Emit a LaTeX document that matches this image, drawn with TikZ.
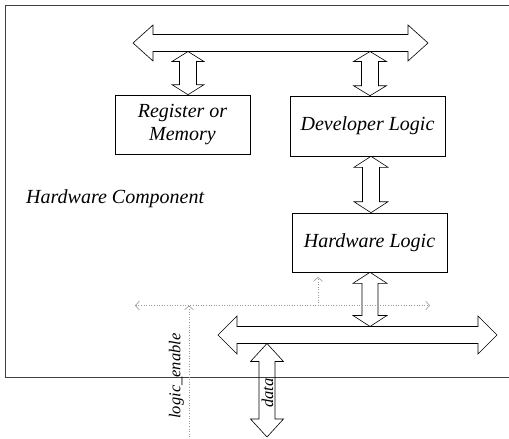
\documentclass[tikz,border=0pt]{standalone}
\usepackage{fontspec}
\setmainfont{Liberation Serif}
\usetikzlibrary{calc,arrows.meta}
\tikzset{
  frame/.style={line width=0.7pt, black!75},
  box/.style={draw, line width=0.6pt, inner sep=0pt, align=center,
    font=\fontsize{20}{23}\selectfont\itshape},
  fat/.style={draw, line width=0.6pt},
  sig/.style={gray!80, dotted, line width=0.6pt, -{Straight Barb[length=4pt,width=9pt]}},
  sigboth/.style={gray!80, dotted, line width=0.6pt, {Straight Barb[length=4pt,width=9pt]}-{Straight Barb[length=4pt,width=9pt]}},
  lbl/.style={font=\fontsize{20}{23}\selectfont\itshape, inner sep=0pt},
  rlbl/.style={font=\fontsize{16.5}{18}\selectfont\itshape, inner sep=0pt, rotate=90}
}
% vertical fat double arrow: #1 top tip, #2 bottom tip, #3 shaft half, #4 head half, #5 head length
\newcommand\fatV[5]{%
  \draw[fat] let \p1=(#1), \p2=(#2) in
    (\x1,\y1) -- ({\x1+#4pt},{\y1-#5pt}) -- ({\x1+#3pt},{\y1-#5pt}) --
    ({\x1+#3pt},{\y2+#5pt}) -- ({\x1+#4pt},{\y2+#5pt}) -- (\x1,\y2) --
    ({\x1-#4pt},{\y2+#5pt}) -- ({\x1-#3pt},{\y2+#5pt}) --
    ({\x1-#3pt},{\y1-#5pt}) -- ({\x1-#4pt},{\y1-#5pt}) -- cycle;}
% horizontal fat double arrow: #1 left tip, #2 right tip
\newcommand\fatH[5]{%
  \draw[fat] let \p1=(#1), \p2=(#2) in
    (\x1,\y1) -- ({\x1+#5pt},{\y1+#4pt}) -- ({\x1+#5pt},{\y1+#3pt}) --
    ({\x2-#5pt},{\y1+#3pt}) -- ({\x2-#5pt},{\y1+#4pt}) -- (\x2,\y1) --
    ({\x2-#5pt},{\y1-#4pt}) -- ({\x2-#5pt},{\y1-#3pt}) --
    ({\x1+#5pt},{\y1-#3pt}) -- ({\x1+#5pt},{\y1-#4pt}) -- cycle;}
\begin{document}
\begin{tikzpicture}[x=1pt,y=-1pt]
\useasboundingbox (0,0) rectangle (509,439);
% frame (open on the right)
\coordinate (ftr) at (509,5);
\coordinate (ftl) at (5,5);
\coordinate (fbl) at (5,377);
\coordinate (fbr) at (509,377);
\draw[frame] (ftr) -- (ftl) -- (fbl) -- (fbr);

% boxes
\node[box, minimum width=135pt, minimum height=59pt] (reg) at (182.5,124.5) {Register or\\Memory};
\node[box, minimum width=155pt, minimum height=60pt] (dev) at (367.5,126) {Developer Logic};
\node[box, minimum width=155pt, minimum height=59pt] (hwl) at (369.5,242.5) {Hardware Logic};
\node[lbl, anchor=base west] (hc) at (26,203) {Hardware Component};

% top bus
\coordinate (tbL) at (133,43);
\coordinate (tbR) at (428,43);
\fatH{tbL}{tbR}{8.5}{18}{20}
\coordinate (t1) at (188,51.5);
\coordinate (t2) at (370,51.5);
\fatV{t1}{reg.north -| t1}{8.5}{16}{10}
\fatV{t2}{dev.north -| t2}{8.5}{16.5}{10}
\coordinate (t3) at (dev.south -| 371,0);
\fatV{t3}{hwl.north -| t3}{8.5}{17}{11}

% bottom bus
\coordinate (bbL) at (218,335);
\coordinate (bbR) at (497,335);
\fatH{bbL}{bbR}{8.5}{19}{19}
\coordinate (b1) at (370,326.5);
\fatV{hwl.south -| b1}{b1}{8}{17}{11}
\coordinate (dtop) at (267,343.5);
\coordinate (dbot) at (267,437);
\fatV{dtop}{dbot}{8}{16.5}{18}
\node[rlbl] (dl) at (267.5,393) {data};

% logic_enable signal
\coordinate (sL) at (135,305.5);
\coordinate (sR) at (430,305.5);
\coordinate (sJ) at (189,305.5);
\coordinate (sB) at (189,437);
\coordinate (sU) at (318,305.5);
\coordinate (sUt) at (318,277);
\draw[sigboth] (sL) -- (sR);
\draw[sig] (sB) -- (sJ);
\draw[sig] (sU) -- (sUt);
\node[rlbl] (le) at (176.5,376) {logic\_enable};
\end{tikzpicture}
\end{document}
